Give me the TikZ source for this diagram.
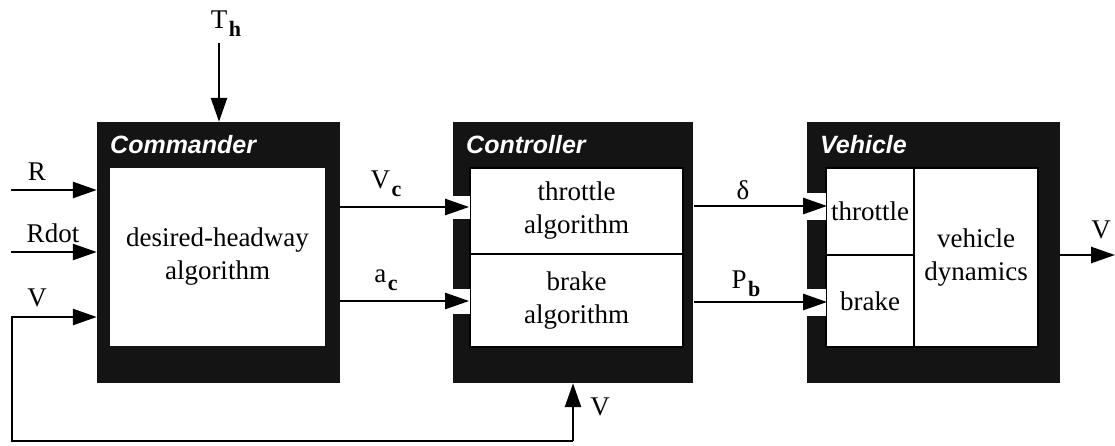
\documentclass[tikz,border=0pt]{standalone}
\usepackage{fontspec}
\setmainfont{Liberation Serif}
\newfontfamily\hv{Liberation Sans}
\usetikzlibrary{arrows.meta}
\newcommand{\sbs}[1]{\kern1.5pt\raisebox{-8pt}{\fontsize{22}{22}\selectfont\bfseries #1}}
\begin{document}
\begin{tikzpicture}[x=1pt,y=-1pt,
  outer/.style={fill=black!92, draw=none, inner sep=0pt, rectangle},
  cell/.style={fill=white, draw=black, line width=1.8pt, inner sep=0pt, align=center, rectangle,
    font=\fontsize{27}{33}\selectfont},
  ttl/.style={anchor=west, inner sep=0pt, text=white, font=\hv\bfseries\itshape\fontsize{25}{25}\selectfont},
  lbl/.style={inner sep=0pt, font=\fontsize{27}{27}\selectfont},
  arr/.style={line width=2.5pt, -{Triangle[length=24pt,width=16pt]}},
  notch/.style={fill=white, draw=none}]
\useasboundingbox (0,0) rectangle (1115,445);
% Commander
\node[outer, minimum width=243pt, minimum height=261pt] (cmd) at (218.5,252.5) {};
\node[cell, draw=none, minimum width=215pt, minimum height=178pt] (cmdin) at (217.5,257) {desired-headway\\algorithm};
\node[ttl] (cmdt) at (110,145) {Commander};
% Controller
\node[outer, minimum width=240pt, minimum height=261pt] (ctl) at (573,252.5) {};
\fill[white] (470,168) rectangle (683,347);
\node[cell, minimum width=213pt, minimum height=86pt] (ctlt) at (576.5,211) {throttle\\algorithm};
\node[cell, minimum width=213pt, minimum height=93pt] (ctlb) at (576.5,300.5) {brake\\algorithm};
\node[ttl] (ctlttl) at (466,145) {Controller};
% Vehicle
\node[outer, minimum width=253pt, minimum height=261pt] (veh) at (933.5,252.5) {};
\fill[white] (826,168) rectangle (1038,347);
\node[cell, minimum width=88pt, minimum height=87pt] (veht) at (870,211.5) {throttle};
\node[cell, minimum width=88pt, minimum height=92pt] (vehb) at (870,301) {brake};
\node[cell, minimum width=124pt, minimum height=179pt] (vehd) at (976,257.5) {vehicle\\dynamics};
\node[ttl] (vehttl) at (820,145) {Vehicle};
% notches in the left strips
\fill[notch] (452,196) rectangle (470,219);
\fill[notch] (452,289) rectangle (470,314);
\fill[notch] (806,193) rectangle (826,220);
\fill[notch] (806,289) rectangle (826,316);
% coordinates
\coordinate (th) at (219,43);
\coordinate (rin) at (11,190);
\coordinate (rdin) at (11,252);
\coordinate (vin) at (12,317);
\coordinate (fbl) at (12,441);
\coordinate (fb) at (573,441);
\coordinate (vc) at (400,207);
\coordinate (ac) at (400,301);
\coordinate (dl) at (750,206);
\coordinate (pb) at (750,302);
\coordinate (vout) at (1115,255);
% connectors
\draw[arr] (th) -- (th |- cmd.north);
\draw[arr] (rin) -- (rin -| cmd.west);
\draw[arr] (rdin) -- (rdin -| cmd.west);
\draw[arr] (fb) -- (fbl) -- (vin) -- (vin -| cmd.west);
\draw[arr] (fb) -- (ctl.south);
\draw[arr] (vc -| cmd.east) -- (vc -| ctlt.west);
\draw[arr] (ac -| cmd.east) -- (ac -| ctlb.west);
\draw[arr] ([xshift=1pt]dl -| ctl.east) -- ([xshift=2pt]dl -| veht.west);
\draw[arr] ([xshift=1pt]pb -| ctl.east) -- ([xshift=2pt]pb -| vehb.west);
\draw[arr] (vout -| veh.east) -- (vout);
% labels
\node[lbl] (lth) at (226,24) {T\sbs{h}};
\node[lbl] (lr) at (37,172) {R};
\node[lbl] (lrd) at (53,233) {Rdot};
\node[lbl] (lv) at (37,298) {V};
\node[lbl] (lvc) at (386,184) {V\sbs{c}};
\node[lbl] (lac) at (386,280) {a\sbs{c}};
\node[lbl] (ld) at (743,190) {δ};
\node[lbl] (lpb) at (746,284) {P\sbs{b}};
\node[lbl] (lvo) at (1101,230) {V};
\node[lbl] (lvb) at (600,407) {V};
\end{tikzpicture}
\end{document}
